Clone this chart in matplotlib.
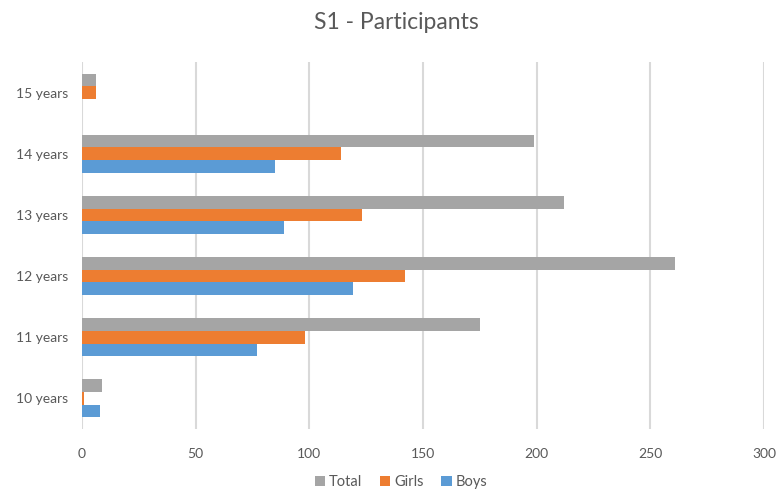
import matplotlib.pyplot as plt
import numpy as np

# participants per age group
ages = ["10 years", "11 years", "12 years", "13 years", "14 years", "15 years"]
boys = [8, 77, 119, 89, 85, 0]
girls = [1, 98, 142, 123, 114, 6]
total = [9, 175, 261, 212, 199, 6]

plt.rcParams["font.family"] = ["Lato", "DejaVu Sans"]

fig = plt.figure(figsize=(7.76, 4.93), dpi=100)
ax = fig.add_axes([0.1057, 0.1298, 0.8788, 0.7445])

y = np.arange(len(ages))
h = 1 / (3 + 1.82)

ax.barh(y - h, boys, height=h, color="#5B9BD5", label="Boys", zorder=3)
ax.barh(y, girls, height=h, color="#ED7D31", label="Girls", zorder=3)
ax.barh(y + h, total, height=h, color="#A5A5A5", label="Total", zorder=3)

ax.set_xlim(0, 300)
ax.set_ylim(-0.5, len(ages) - 0.5)
ax.set_xticks(np.arange(0, 301, 50))
ax.set_yticks(y)
ax.set_yticklabels(ages)
ax.tick_params(axis="both", length=0, labelsize=10, colors="#595959")
ax.tick_params(axis="y", pad=10)
ax.tick_params(axis="x", pad=14)
ax.grid(axis="x", color="#D9D9D9", linewidth=1.5, zorder=0)
for s in ax.spines.values():
    s.set_visible(False)

fig.text(0.511, 0.955, "S1 - Participants", fontsize=16.5, color="#595959",
         ha="center", va="center")

handles, labels = ax.get_legend_handles_labels()
fig.legend(handles[::-1], labels[::-1], loc="lower center", bbox_to_anchor=(0.517, -0.018),
           ncol=3, frameon=False, fontsize=10.5, labelcolor="#595959",
           handlelength=0.7, handleheight=0.7, handletextpad=0.3, columnspacing=1.2)

fig.savefig("out.png", dpi=100)
